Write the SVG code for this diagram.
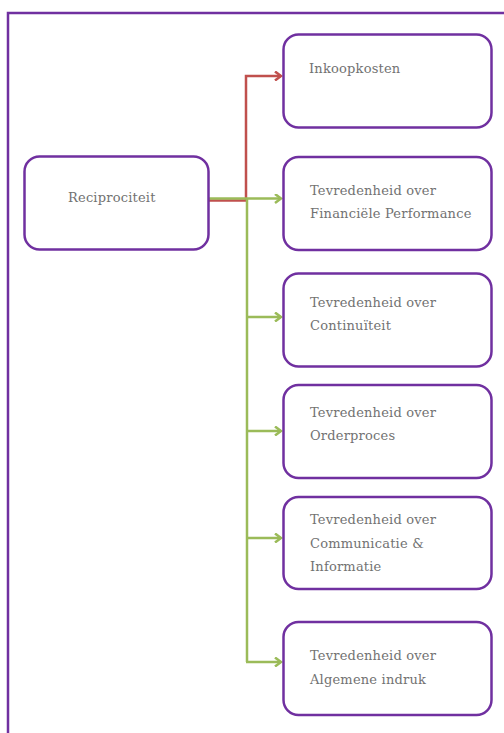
<svg xmlns="http://www.w3.org/2000/svg" width="504" height="733" viewBox="0 0 504 733">
  <style>
    .frame { fill: none; stroke: #7030A0; stroke-width: 2.5; }
    .box { fill: #ffffff; stroke: #7030A0; stroke-width: 2.5; }
    .label { font-family: "DejaVu Serif", "Liberation Serif", serif; font-size: 13px; letter-spacing: 0.2px; fill: #727272; }
    .red { fill: none; stroke: #C0504D; stroke-width: 2.5; }
    .green { fill: none; stroke: #9BBB59; stroke-width: 2.5; }
  </style>
  <defs>
    <marker id="arrowRed" markerWidth="10" markerHeight="10" refX="7" refY="5" orient="auto" markerUnits="userSpaceOnUse">
      <path d="M1,0.5 L7,5 L1,9.5" fill="none" stroke="#C0504D" stroke-width="2.5"/>
    </marker>
    <marker id="arrowGreen" markerWidth="10" markerHeight="10" refX="7" refY="5" orient="auto" markerUnits="userSpaceOnUse">
      <path d="M1,0.5 L7,5 L1,9.5" fill="none" stroke="#9BBB59" stroke-width="2.5"/>
    </marker>
  </defs>

  <!-- outer frame -->
  <rect class="frame" x="8" y="13" width="520" height="740"/>

  <!-- connectors -->
  <g id="connectors">
    <path class="red" d="M209,200.5 H246 V76 H281" marker-end="url(#arrowRed)"/>
    <path class="green" d="M209,198.5 H281" marker-end="url(#arrowGreen)"/>
    <path class="green" d="M247,199 V662"/>
    <path class="green" d="M247,317 H281" marker-end="url(#arrowGreen)"/>
    <path class="green" d="M247,431 H281" marker-end="url(#arrowGreen)"/>
    <path class="green" d="M247,538 H281" marker-end="url(#arrowGreen)"/>
    <path class="green" d="M246,662 H281" marker-end="url(#arrowGreen)"/>
  </g>

  <g id="reciprociteit">
    <rect class="box" x="24.5" y="156.5" width="184" height="93" rx="15"/>
    <text class="label" x="68" y="202">Reciprociteit</text>
  </g>

  <g id="inkoopkosten">
    <rect class="box" x="283.5" y="34.5" width="208" height="93" rx="15"/>
    <text class="label" x="309" y="73">Inkoopkosten</text>
  </g>

  <g id="financiele-performance">
    <rect class="box" x="283.5" y="157" width="208" height="93" rx="15"/>
    <text class="label" x="310" y="195">Tevredenheid over</text>
    <text class="label" x="310" y="218">Financiële Performance</text>
  </g>

  <g id="continuiteit">
    <rect class="box" x="283.5" y="273.5" width="208" height="93" rx="15"/>
    <text class="label" x="310" y="307">Tevredenheid over</text>
    <text class="label" x="310" y="330">Continuïteit</text>
  </g>

  <g id="orderproces">
    <rect class="box" x="283.5" y="385" width="208" height="93" rx="15"/>
    <text class="label" x="310" y="417">Tevredenheid over</text>
    <text class="label" x="310" y="440">Orderproces</text>
  </g>

  <g id="communicatie-informatie">
    <rect class="box" x="283.5" y="497" width="208" height="92" rx="15"/>
    <text class="label" x="310" y="524">Tevredenheid over</text>
    <text class="label" x="310" y="548">Communicatie &amp;</text>
    <text class="label" x="310" y="571">Informatie</text>
  </g>

  <g id="algemene-indruk">
    <rect class="box" x="283.5" y="622" width="208" height="93" rx="15"/>
    <text class="label" x="310" y="660">Tevredenheid over</text>
    <text class="label" x="310" y="684">Algemene indruk</text>
  </g>
</svg>
